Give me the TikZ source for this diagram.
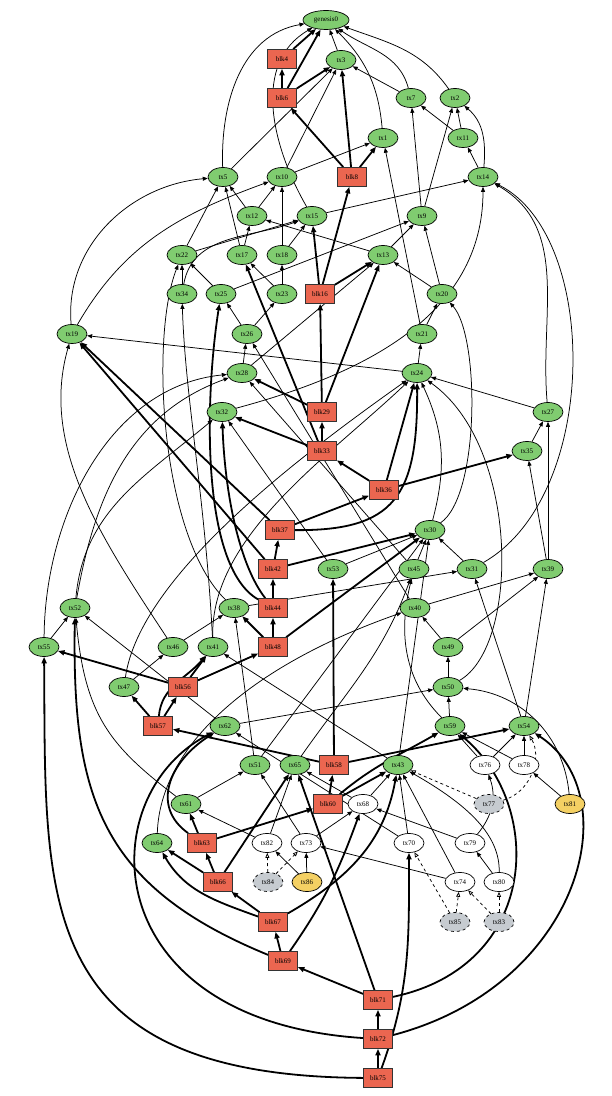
\documentclass[tikz,border=0pt]{standalone}
\usepackage{fontspec}
\setmainfont{Liberation Serif}
\usepackage{tikz}
\usetikzlibrary{arrows.meta, positioning, shapes.geometric, backgrounds}

\definecolor{txgreen}{HTML}{80CC70}
\definecolor{blkred}{HTML}{EB6650}
\definecolor{newyellow}{HTML}{F4D063}
\definecolor{orphgray}{HTML}{C6CBD0}

\begin{document}
\begin{tikzpicture}[
    x=1pt, y=1pt,
    node_tx/.style={ellipse, draw, line width=0.7pt, fill=txgreen, minimum width=30pt, minimum height=19pt, inner sep=0pt, font=\fontsize{7}{8}\selectfont},
    node_blk/.style={rectangle, draw=black!80, line width=0.7pt, fill=blkred, minimum width=29pt, minimum height=19pt, inner sep=0pt, font=\fontsize{7}{8}\selectfont},
    node_free/.style={node_tx, fill=white},
    node_new/.style={node_tx, fill=newyellow},
    node_orphan/.style={node_tx, fill=orphgray, dashed},
    edge_tx/.style={-{Triangle[length=5pt,width=4pt]}, line width=0.75pt},
    edge_blk/.style={-{Triangle[length=6.5pt,width=5pt]}, line width=1.8pt},
    edge_dash/.style={-{Triangle[open,length=5pt,width=4pt]}, dashed, line width=0.75pt}
  ]
    \useasboundingbox (0,0) rectangle (612,1096);

    \node[node_tx, minimum width=46pt] (genesis0) at (326,1076) {genesis0};
    \node[node_blk] (blk4) at (282,1037) {blk4};
    \node[node_tx] (tx3) at (341,1036) {tx3};
    \node[node_blk] (blk6) at (282,998) {blk6};
    \node[node_tx] (tx7) at (411,998) {tx7};
    \node[node_tx] (tx2) at (455,998) {tx2};
    \node[node_tx] (tx1) at (383,958) {tx1};
    \node[node_tx] (tx11) at (463,958) {tx11};
    \node[node_tx] (tx5) at (223,919) {tx5};
    \node[node_tx] (tx10) at (282,919) {tx10};
    \node[node_blk] (blk8) at (352,919) {blk8};
    \node[node_tx] (tx14) at (483,919) {tx14};
    \node[node_tx] (tx12) at (252,880) {tx12};
    \node[node_tx] (tx15) at (312,880) {tx15};
    \node[node_tx] (tx9) at (422,880) {tx9};
    \node[node_tx] (tx22) at (182,841) {tx22};
    \node[node_tx] (tx17) at (242,841) {tx17};
    \node[node_tx] (tx18) at (282,841) {tx18};
    \node[node_tx] (tx13) at (383,841) {tx13};
    \node[node_tx] (tx34) at (182,802) {tx34};
    \node[node_tx] (tx25) at (221,802) {tx25};
    \node[node_tx] (tx23) at (282,802) {tx23};
    \node[node_blk] (blk16) at (320,802) {blk16};
    \node[node_tx] (tx20) at (442,802) {tx20};
    \node[node_tx] (tx19) at (72,762) {tx19};
    \node[node_tx] (tx26) at (247,762) {tx26};
    \node[node_tx] (tx21) at (422,762) {tx21};
    \node[node_tx] (tx28) at (242,723) {tx28};
    \node[node_tx] (tx24) at (417,723) {tx24};
    \node[node_tx] (tx32) at (222,684) {tx32};
    \node[node_blk] (blk29) at (322,684) {blk29};
    \node[node_tx] (tx27) at (548,684) {tx27};
    \node[node_blk] (blk33) at (322,645) {blk33};
    \node[node_tx] (tx35) at (527,645) {tx35};
    \node[node_blk] (blk36) at (384,606) {blk36};
    \node[node_blk] (blk37) at (280,566) {blk37};
    \node[node_tx] (tx30) at (430,566) {tx30};
    \node[node_blk] (blk42) at (273,527) {blk42};
    \node[node_tx] (tx53) at (333,527) {tx53};
    \node[node_tx] (tx45) at (414,527) {tx45};
    \node[node_tx] (tx31) at (472,527) {tx31};
    \node[node_tx] (tx39) at (548,527) {tx39};
    \node[node_tx] (tx52) at (75,488) {tx52};
    \node[node_tx] (tx38) at (234,488) {tx38};
    \node[node_blk] (blk44) at (273,488) {blk44};
    \node[node_tx] (tx40) at (415,488) {tx40};
    \node[node_tx] (tx55) at (44,449) {tx55};
    \node[node_tx] (tx46) at (173,449) {tx46};
    \node[node_tx] (tx41) at (213,449) {tx41};
    \node[node_blk] (blk48) at (273,449) {blk48};
    \node[node_tx] (tx49) at (448,449) {tx49};
    \node[node_tx] (tx47) at (124,409) {tx47};
    \node[node_blk] (blk56) at (183,409) {blk56};
    \node[node_tx] (tx50) at (448,409) {tx50};
    \node[node_blk] (blk57) at (158,370) {blk57};
    \node[node_tx] (tx62) at (225,370) {tx62};
    \node[node_tx] (tx59) at (450,370) {tx59};
    \node[node_tx] (tx54) at (524,370) {tx54};
    \node[node_tx] (tx51) at (255,331) {tx51};
    \node[node_tx] (tx65) at (295,331) {tx65};
    \node[node_blk] (blk58) at (334,331) {blk58};
    \node[node_tx] (tx43) at (398,331) {tx43};
    \node[node_free] (tx76) at (485,331) {tx76};
    \node[node_free] (tx78) at (524,331) {tx78};
    \node[node_tx] (tx61) at (186,292) {tx61};
    \node[node_blk] (blk60) at (328,292) {blk60};
    \node[node_free] (tx68) at (363,292) {tx68};
    \node[node_orphan] (tx77) at (489,292) {tx77};
    \node[node_new] (tx81) at (570,292) {tx81};
    \node[node_tx] (tx64) at (157,253) {tx64};
    \node[node_blk] (blk63) at (202,253) {blk63};
    \node[node_free] (tx82) at (267,253) {tx82};
    \node[node_free] (tx73) at (306,253) {tx73};
    \node[node_free] (tx70) at (409,253) {tx70};
    \node[node_free] (tx79) at (470,253) {tx79};
    \node[node_blk] (blk66) at (218,214) {blk66};
    \node[node_orphan] (tx84) at (268,214) {tx84};
    \node[node_new] (tx86) at (307,214) {tx86};
    \node[node_free] (tx74) at (460,214) {tx74};
    \node[node_free] (tx80) at (499,214) {tx80};
    \node[node_blk] (blk67) at (273,174) {blk67};
    \node[node_orphan] (tx85) at (455,174) {tx85};
    \node[node_orphan] (tx83) at (499,174) {tx83};
    \node[node_blk] (blk69) at (283,135) {blk69};
    \node[node_blk] (blk71) at (378,96) {blk71};
    \node[node_blk] (blk72) at (378,57) {blk72};
    \node[node_blk] (blk75) at (378,18) {blk75};

    \begin{pgfonlayer}{background}
    \draw[edge_blk] (blk4) to (genesis0);
    \draw[edge_blk] (blk6) to (blk4);
    \draw[edge_blk] (blk6) to (genesis0);
    \draw[edge_blk] (blk6) to (tx3);
    \draw[edge_blk] (blk8) to (blk6);
    \draw[edge_blk] (blk8) to (tx3);
    \draw[edge_blk] (blk8) to (tx1);
    \draw[edge_blk] (blk16) to (blk8);
    \draw[edge_blk] (blk16) to (tx15);
    \draw[edge_blk] (blk16) to (tx13);
    \draw[edge_blk] (blk29) to (blk16);
    \draw[edge_blk] (blk29) to (tx13);
    \draw[edge_blk] (blk29) to (tx28);
    \draw[edge_blk] (blk33) to (blk29);
    \draw[edge_blk] (blk33) to (tx32);
    \draw[edge_blk] (blk33) to (tx17);
    \draw[edge_blk] (blk36) to (blk33);
    \draw[edge_blk] (blk36) to (tx24);
    \draw[edge_blk] (blk36) to (tx35);
    \draw[edge_blk] (blk37) to (blk36);
    \draw[edge_blk] (blk37) .. controls (395,565) and (418,600) .. (tx24);
    \draw[edge_blk] (blk37) to (tx19);
    \draw[edge_blk] (blk42) to (blk37);
    \draw[edge_blk] (blk42) to (tx30);
    \draw[edge_blk] (blk42) to (tx19);
    \draw[edge_blk] (blk44) to (blk42);
    \draw[edge_blk] (blk44) .. controls (200,530) and (205,700) .. (tx25);
    \draw[edge_blk] (blk44) .. controls (240,530) and (225,600) .. (tx32);
    \draw[edge_blk] (blk48) to (blk44);
    \draw[edge_blk] (blk48) to (tx38);
    \draw[edge_blk] (blk48) to (tx30);
    \draw[edge_blk] (blk56) to (blk48);
    \draw[edge_blk] (blk56) to (tx41);
    \draw[edge_blk] (blk56) to (tx55);
    \draw[edge_blk] (blk57) to (blk56);
    \draw[edge_blk] (blk57) to (tx47);
    \draw[edge_blk] (blk57) to[out=85, in=-130] (tx41);
    \draw[edge_blk] (blk58) to (blk57);
    \draw[edge_blk] (blk58) to (tx54);
    \draw[edge_blk] (blk58) to (tx53);
    \draw[edge_blk] (blk60) to (blk58);
    \draw[edge_blk] (blk60) to (tx43);
    \draw[edge_blk] (blk60) to[out=40, in=-150] (tx59);
    \draw[edge_blk] (blk63) to (blk60);
    \draw[edge_blk] (blk63) to (tx61);
    \draw[edge_blk] (blk63) .. controls (150,290) and (170,335) .. (tx62);
    \draw[edge_blk] (blk66) to (blk63);
    \draw[edge_blk] (blk66) to (tx64);
    \draw[edge_blk] (blk66) to (tx65);
    \draw[edge_blk] (blk67) to (blk66);
    \draw[edge_blk] (blk67) to[out=160, in=-60] (tx64);
    \draw[edge_blk] (blk67) to[out=30, in=-100] (tx43);
    \draw[edge_blk] (blk69) to (blk67);
    \draw[edge_blk] (blk69) .. controls (100,210) and (72,300) .. (tx52);
    \draw[edge_blk] (blk69) to[out=55, in=-110] (tx68);
    \draw[edge_blk] (blk71) to (blk69);
    \draw[edge_blk] (blk71) to (tx65);
    \draw[edge_blk] (blk71) .. controls (540,130) and (545,290) .. (tx59);
    \draw[edge_blk] (blk72) to (blk71);
    \draw[edge_blk] (blk72) .. controls (95,75) and (90,300) .. (tx62);
    \draw[edge_blk] (blk72) .. controls (580,110) and (630,300) .. (tx54);
    \draw[edge_blk] (blk75) to (blk72);
    \draw[edge_blk] (blk75) .. controls (30,20) and (46,200) .. (tx55);
    \draw[edge_blk] (blk75) to[out=70, in=-90] (tx70);

    \draw[edge_tx] (tx3) to (genesis0);
    \draw[edge_tx] (tx7) to[out=105, in=-35] (genesis0);
    \draw[edge_tx] (tx7) to (tx3);
    \draw[edge_tx] (tx2) to[out=125, in=-20] (genesis0);
    \draw[edge_tx] (tx1) to[out=95, in=-45] (genesis0);
    \draw[edge_tx] (tx11) to (tx7);
    \draw[edge_tx] (tx11) to (tx2);
    \draw[edge_tx] (tx5) to[out=92, in=190] (genesis0);
    \draw[edge_tx] (tx5) to (tx3);
    \draw[edge_tx] (tx10) to (tx3);
    \draw[edge_tx] (tx10) to (tx1);
    \draw[edge_tx] (tx14) to (tx11);
    \draw[edge_tx] (tx14) to[out=85, in=-40] (tx2);
    \draw[edge_tx] (tx12) to (tx5);
    \draw[edge_tx] (tx12) to (tx10);
    \draw[edge_tx] (tx15) to[out=120, in=210] (genesis0);
    \draw[edge_tx] (tx15) to (tx14);
    \draw[edge_tx] (tx9) to (tx7);
    \draw[edge_tx] (tx9) to (tx2);
    \draw[edge_tx] (tx22) to (tx5);
    \draw[edge_tx] (tx22) to (tx15);
    \draw[edge_tx] (tx17) to (tx5);
    \draw[edge_tx] (tx17) to (tx12);
    \draw[edge_tx] (tx18) to (tx10);
    \draw[edge_tx] (tx18) to (tx15);
    \draw[edge_tx] (tx13) to (tx12);
    \draw[edge_tx] (tx13) to (tx9);
    \draw[edge_tx] (tx34) to (tx22);
    \draw[edge_tx] (tx34) to[out=80, in=200] (tx15);
    \draw[edge_tx] (tx25) to (tx22);
    \draw[edge_tx] (tx25) to (tx9);
    \draw[edge_tx] (tx23) to (tx17);
    \draw[edge_tx] (tx23) to (tx18);
    \draw[edge_tx] (tx20) to (tx13);
    \draw[edge_tx] (tx20) to (tx9);
    \draw[edge_tx] (tx19) to[out=95, in=185] (tx5);
    \draw[edge_tx] (tx19) to[out=60, in=200] (tx10);
    \draw[edge_tx] (tx26) to (tx25);
    \draw[edge_tx] (tx26) to (tx23);
    \draw[edge_tx] (tx21) to (tx20);
    \draw[edge_tx] (tx21) to (tx1);
    \draw[edge_tx] (tx28) to (tx26);
    \draw[edge_tx] (tx28) to (tx13);
    \draw[edge_tx] (tx24) to (tx21);
    \draw[edge_tx] (tx24) to (tx19);
    \draw[edge_tx] (tx32) to[out=15, in=-90] (tx14);
    \draw[edge_tx] (tx27) to (tx24);
    \draw[edge_tx] (tx27) to[out=95, in=-30] (tx14);
    \draw[edge_tx] (tx35) to (tx27);
    \draw[edge_tx] (tx30) to[out=75, in=-65] (tx24);
    \draw[edge_tx] (tx30) .. controls (480,600) and (480,760) .. (tx20);
    \draw[edge_tx] (tx53) to (tx32);
    \draw[edge_tx] (tx53) to (tx30);
    \draw[edge_tx] (tx45) to (tx30);
    \draw[edge_tx] (tx45) to (tx28);
    \draw[edge_tx] (tx31) to (tx30);
    \draw[edge_tx] (tx31) .. controls (600,600) and (600,860) .. (tx14);
    \draw[edge_tx] (tx39) to (tx35);
    \draw[edge_tx] (tx39) to (tx27);
    \draw[edge_tx] (tx52) to[out=80, in=200] (tx28);
    \draw[edge_tx] (tx52) to[out=85, in=-140] (tx32);
    \draw[edge_tx] (tx38) to (tx31);
    \draw[edge_tx] (tx38) .. controls (160,560) and (150,760) .. (tx22);
    \draw[edge_tx] (tx40) to (tx39);
    \draw[edge_tx] (tx40) to (tx26);
    \draw[edge_tx] (tx55) to (tx52);
    \draw[edge_tx] (tx55) .. controls (45,580) and (110,710) .. (tx28);
    \draw[edge_tx] (tx46) .. controls (100,560) and (40,650) .. (tx19);
    \draw[edge_tx] (tx46) to (tx38);
    \draw[edge_tx] (tx41) .. controls (210,560) and (330,640) .. (tx24);
    \draw[edge_tx] (tx41) .. controls (205,600) and (185,700) .. (tx34);
    \draw[edge_tx] (tx49) to (tx40);
    \draw[edge_tx] (tx49) to (tx39);
    \draw[edge_tx] (tx47) to (tx46);
    \draw[edge_tx] (tx47) .. controls (140,520) and (300,640) .. (tx24);
    \draw[edge_tx] (tx50) to (tx49);
    \draw[edge_tx] (tx50) .. controls (520,450) and (520,650) .. (tx24);
    \draw[edge_tx] (tx62) to (tx52);
    \draw[edge_tx] (tx62) to (tx50);
    \draw[edge_tx] (tx59) to (tx50);
    \draw[edge_tx] (tx59) .. controls (400,420) and (400,470) .. (tx45);
    \draw[edge_tx] (tx54) to (tx31);
    \draw[edge_tx] (tx54) to (tx39);
    \draw[edge_tx] (tx51) to (tx38);
    \draw[edge_tx] (tx51) to (tx30);
    \draw[edge_tx] (tx65) to[out=55, in=-110] (tx45);
    \draw[edge_tx] (tx43) to (tx30);
    \draw[edge_tx] (tx43) to (tx41);
    \draw[edge_tx] (tx76) to (tx59);
    \draw[edge_tx] (tx76) to (tx54);
    \draw[edge_tx] (tx78) to (tx59);
    \draw[edge_tx] (tx78) to (tx54);
    \draw[edge_tx] (tx61) to (tx51);
    \draw[edge_tx] (tx61) .. controls (110,350) and (85,380) .. (tx52);
    \draw[edge_tx] (tx64) .. controls (160,350) and (250,430) .. (tx40);
    \draw[edge_tx] (tx68) to (tx43);
    \draw[edge_tx] (tx68) to (tx65);
    \draw[edge_tx] (tx81) to (tx78);
    \draw[edge_tx] (tx81) to[out=95, in=-5] (tx50);
    \draw[edge_tx] (tx82) to (tx61);
    \draw[edge_tx] (tx82) to (tx65);
    \draw[edge_tx] (tx73) to (tx68);
    \draw[edge_tx] (tx73) to (tx51);
    \draw[edge_tx] (tx70) to (tx43);
    \draw[edge_tx] (tx70) to (tx62);
    \draw[edge_tx] (tx79) to[out=50, in=-70] (tx76);
    \draw[edge_tx] (tx79) to (tx68);
    \draw[edge_tx] (tx86) to (tx73);
    \draw[edge_tx] (tx86) to (tx82);
    \draw[edge_tx] (tx74) to (tx73);
    \draw[edge_tx] (tx74) to (tx43);
    \draw[edge_tx] (tx80) to (tx79);
    \draw[edge_tx] (tx80) .. controls (500,260) and (470,290) .. (tx43);

    \draw[edge_dash] (tx77) to (tx43);
    \draw[edge_dash] (tx77) to[out=15, in=-60] (tx54);
    \draw[edge_dash] (tx84) to (tx82);
    \draw[edge_dash] (tx84) to (tx73);
    \draw[edge_dash] (tx85) to (tx74);
    \draw[edge_dash] (tx85) to (tx70);
    \draw[edge_dash] (tx83) to (tx80);
    \draw[edge_dash] (tx83) to (tx74);
    \end{pgfonlayer}
  \end{tikzpicture}
\end{document}
